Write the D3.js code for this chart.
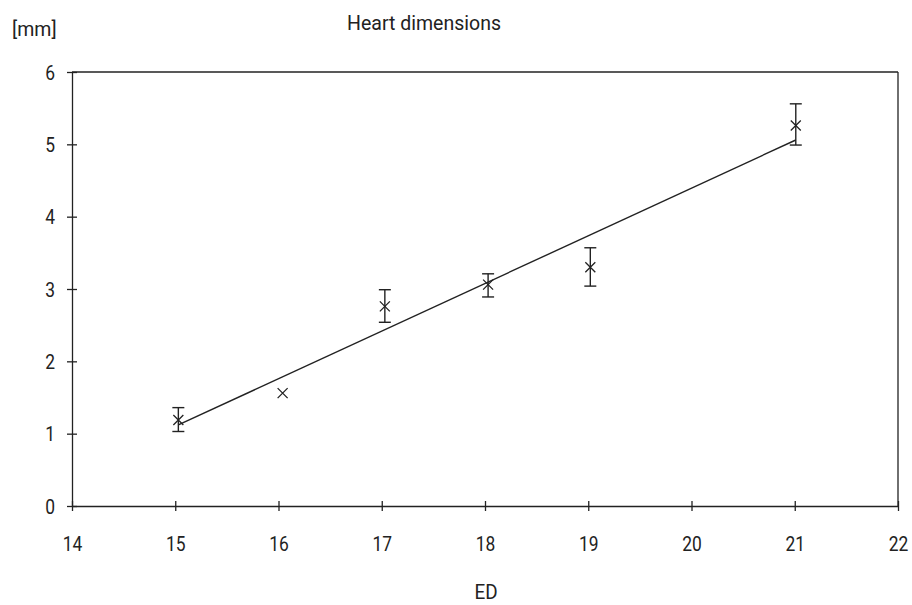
<!DOCTYPE html>
<html>
<head>
<meta charset="utf-8">
<script src="https://cdn.jsdelivr.net/npm/d3@7"></script>
<style>
  body { margin: 0; background: #fff; }
  text { font-family: Roboto, "Liberation Sans", sans-serif; fill: #222; }
</style>
</head>
<body>
<div id="chart"></div>
<script>
// measurements (ED vs heart dimension in mm)
const ed = [15.03, 16.04, 17.03, 18.03, 19.02, 21.01];
const mean = [1.19, 1.56, 2.76, 3.06, 3.30, 5.26];
const errLow = [1.03, null, 2.54, 2.89, 3.04, 4.99];
const errHigh = [1.36, null, 2.99, 3.21, 3.57, 5.56];
const trendX = [15.03, 21.01];
const trendY = [1.12, 5.06];
const xTicks = [14, 15, 16, 17, 18, 19, 20, 21, 22];
const yTicks = [0, 1, 2, 3, 4, 5, 6];

const data = ed.map((x, i) => ({ x, y: mean[i], lo: errLow[i], hi: errHigh[i] }));

const W = 912, H = 605;
const margin = { top: 72, right: 14, bottom: 99, left: 72 };
const sx = 0.87; // squeeze text to look like a condensed face

const svg = d3.select("#chart").append("svg")
    .attr("width", W)
    .attr("height", H);

const x = d3.scaleLinear().domain([14, 22]).range([margin.left, W - margin.right]);
const y = d3.scaleLinear().domain([0, 6]).range([H - margin.bottom, margin.top]);

const ink = "#222";

// frame: top and right lines
svg.append("line")
    .attr("x1", x(14)).attr("x2", x(22))
    .attr("y1", y(6)).attr("y2", y(6))
    .attr("stroke", ink).attr("stroke-width", 1.3);
svg.append("line")
    .attr("x1", x(22)).attr("x2", x(22))
    .attr("y1", y(6)).attr("y2", y(0))
    .attr("stroke", ink).attr("stroke-width", 1.3);

// axes, ticks cross the line
const xAxis = svg.append("g")
    .attr("transform", `translate(0,${y(0)})`)
    .call(d3.axisBottom(x).tickValues(xTicks).tickSize(0).tickFormat(d3.format("d")));
xAxis.select(".domain").attr("stroke", ink).attr("stroke-width", 1.3);
xAxis.selectAll(".tick").append("line")
    .attr("y1", -5).attr("y2", 5)
    .attr("stroke", ink).attr("stroke-width", 1.3);
xAxis.selectAll(".tick text")
    .attr("y", 45)
    .attr("dy", 0)
    .attr("transform", `scale(${sx},1)`)
    .style("font-size", "20px");

const yAxis = svg.append("g")
    .attr("transform", `translate(${x(14)},0)`)
    .call(d3.axisLeft(y).tickValues(yTicks).tickSize(0).tickFormat(d3.format("d")));
yAxis.select(".domain").attr("stroke", ink).attr("stroke-width", 1.3);
yAxis.selectAll(".tick").append("line")
    .attr("x1", -5).attr("x2", 5)
    .attr("stroke", ink).attr("stroke-width", 1.3);
yAxis.selectAll(".tick text")
    .attr("x", -17 / sx)
    .attr("dy", "0.35em")
    .attr("transform", `scale(${sx},1)`)
    .style("font-size", "20px");
svg.selectAll(".tick text").attr("fill", ink);

// trend line
svg.append("line")
    .attr("x1", x(trendX[0])).attr("y1", y(trendY[0]))
    .attr("x2", x(trendX[1])).attr("y2", y(trendY[1]))
    .attr("stroke", ink).attr("stroke-width", 1.4);

// error bars
const bars = svg.append("g").selectAll("g")
    .data(data.filter(d => d.lo != null))
    .join("g")
    .attr("stroke", ink).attr("stroke-width", 1.4);
bars.append("line")
    .attr("x1", d => x(d.x)).attr("x2", d => x(d.x))
    .attr("y1", d => y(d.lo)).attr("y2", d => y(d.hi));
bars.append("line")
    .attr("x1", d => x(d.x) - 6).attr("x2", d => x(d.x) + 6)
    .attr("y1", d => y(d.lo)).attr("y2", d => y(d.lo));
bars.append("line")
    .attr("x1", d => x(d.x) - 6).attr("x2", d => x(d.x) + 6)
    .attr("y1", d => y(d.hi)).attr("y2", d => y(d.hi));

// x markers
const s = 5;
svg.append("g").selectAll("path")
    .data(data)
    .join("path")
    .attr("d", d => {
        const cx = x(d.x), cy = y(d.y);
        return `M${cx - s},${cy - s}L${cx + s},${cy + s}M${cx - s},${cy + s}L${cx + s},${cy - s}`;
    })
    .attr("stroke", ink).attr("stroke-width", 1.3).attr("fill", "none");

// labels
function label(px, py, size, k, anchor, str) {
    svg.append("text")
        .attr("transform", `translate(${px},${py}) scale(${k},1)`)
        .attr("text-anchor", anchor)
        .style("font-size", size)
        .text(str);
}
label(12, 36, "21px", 0.93, "start", "[mm]");
label(347, 30, "21px", 0.93, "start", "Heart dimensions");
label(486, 599, "21px", 0.9, "middle", "ED");
</script>
</body>
</html>
